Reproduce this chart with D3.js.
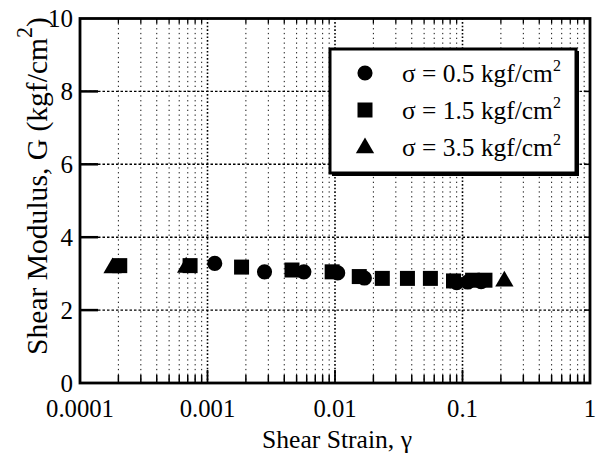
<!DOCTYPE html>
<html><head><meta charset="utf-8">
<script src="https://cdn.jsdelivr.net/npm/d3@7"></script>
<style>body{margin:0;background:#fff}svg{display:block}text{font-family:"Liberation Serif","Times New Roman",serif;fill:#000}</style>
</head><body><svg id="c" width="603" height="457"></svg>
<script>
const xTicks = [0.0001, 0.001, 0.01, 0.1, 1];
const xTickLabels = ["0.0001", "0.001", "0.01", "0.1", "1"];
const yTicks = [0, 2, 4, 6, 8, 10];
const s05x = [0.00114, 0.0028, 0.0057, 0.0105, 0.017, 0.09, 0.11, 0.14];
const s05y = [3.28, 3.05, 3.05, 3.02, 2.88, 2.75, 2.77, 2.78];
const s15x = [0.000205, 0.00073, 0.00185, 0.0046, 0.0095, 0.0155, 0.0235, 0.037, 0.056, 0.085, 0.12, 0.15];
const s15y = [3.22, 3.22, 3.18, 3.1, 3.05, 2.92, 2.87, 2.87, 2.87, 2.8, 2.82, 2.82];
const s35x = [0.00018, 0.00068, 0.213];
const s35y = [3.18, 3.2, 2.82];
const legendLabels = ["σ = 0.5 kgf/cm", "σ = 1.5 kgf/cm", "σ = 3.5 kgf/cm"];

const svg = d3.select("#c");
const L = 80, R = 590, T = 18.5, B = 383;
const x = d3.scaleLog().domain([0.0001, 1]).range([L, R]);
const y = d3.scaleLinear().domain([0, 10]).range([B, T]);

function fit(sel, target) {
  const w = sel.node().getComputedTextLength();
  const fs = parseFloat(sel.attr("font-size"));
  sel.attr("font-size", fs * target / w);
}

const minors = [];
for (let d = -4; d < 0; d++) for (let k = 2; k <= 9; k++) minors.push(k * Math.pow(10, d));

const g = svg.append("g");
g.selectAll(".vm").data(minors).join("line")
  .attr("x1", d => x(d)).attr("x2", d => x(d)).attr("y1", T).attr("y2", B)
  .attr("stroke", "#111").attr("stroke-width", 1).attr("stroke-dasharray", "1.3,3.5");
g.selectAll(".vd").data(xTicks.slice(1, -1)).join("line")
  .attr("x1", d => x(d)).attr("x2", d => x(d)).attr("y1", T).attr("y2", B)
  .attr("stroke", "#000").attr("stroke-width", 1.6).attr("stroke-dasharray", "1.6,2");
g.selectAll(".hg").data(yTicks.slice(1, -1)).join("line")
  .attr("x1", L).attr("x2", R).attr("y1", d => y(d)).attr("y2", d => y(d))
  .attr("stroke", "#000").attr("stroke-width", 1.4).attr("stroke-dasharray", "2.5,2");

g.selectAll(".yt").data(yTicks.slice(1, -1)).join("line")
  .attr("x1", L).attr("x2", L + 18).attr("y1", d => y(d)).attr("y2", d => y(d))
  .attr("stroke", "#000").attr("stroke-width", 2.5);
g.selectAll(".yt2").data(yTicks.slice(1, -1)).join("line")
  .attr("x1", R - 6).attr("x2", R).attr("y1", d => y(d)).attr("y2", d => y(d))
  .attr("stroke", "#000").attr("stroke-width", 1.5);
g.selectAll(".xt").data(minors).join("line")
  .attr("x1", d => x(d)).attr("x2", d => x(d)).attr("y1", B).attr("y2", B - 8)
  .attr("stroke", "#000").attr("stroke-width", 1.5);
g.selectAll(".xt2").data(xTicks.slice(1, -1)).join("line")
  .attr("x1", d => x(d)).attr("x2", d => x(d)).attr("y1", B).attr("y2", B - 13)
  .attr("stroke", "#000").attr("stroke-width", 1.8);
g.selectAll(".xt3").data(minors).join("line")
  .attr("x1", d => x(d)).attr("x2", d => x(d)).attr("y1", T).attr("y2", T + 5)
  .attr("stroke", "#000").attr("stroke-width", 1.3);

g.append("rect").attr("x", L).attr("y", T).attr("width", R - L).attr("height", B - T)
  .attr("fill", "none").attr("stroke", "#000").attr("stroke-width", 2.8);

g.selectAll(".yl").data(yTicks).join("text")
  .attr("x", 73).attr("y", d => y(d) + 8.5).attr("text-anchor", "end")
  .attr("font-size", 25).text(d => d);
g.selectAll(".xl").data(xTicks).join("text")
  .attr("x", d => x(d)).attr("y", 417).attr("text-anchor", "middle")
  .attr("font-size", 24.7).text((d, i) => xTickLabels[i]);

const xt = svg.append("text").attr("x", 337).attr("y", 448).attr("text-anchor", "middle")
  .attr("font-size", 20).text("Shear Strain, γ");
fit(xt, 150);
const yt = svg.append("text").attr("transform", "translate(47,186) rotate(-90)")
  .attr("text-anchor", "middle").attr("font-size", 20);
yt.append("tspan").text("Shear Modulus, G (kgf/cm");
const ysup = yt.append("tspan").attr("dy", -10).attr("font-size", 15).text("2");
yt.append("tspan").attr("dy", 10).text(")");
{
  const w = yt.node().getComputedTextLength();
  const k = 338 / w;
  yt.attr("font-size", 20 * k);
  ysup.attr("font-size", 15 * k).attr("dy", -10 * k);
  yt.select("tspan:last-child").attr("dy", 10 * k);
}

const circ = d3.symbol().type(d3.symbolCircle).size(180);
const sq = d3.symbol().type(d3.symbolSquare).size(225);
const tri = d3.symbol().type(d3.symbolTriangle).size(145);
const mk = svg.append("g");
mk.selectAll(".s35").data(s35x.map((v, i) => [v, s35y[i]])).join("path")
  .attr("d", tri).attr("transform", d => `translate(${x(d[0])},${y(d[1]) + 1})`).attr("fill", "#000");
mk.selectAll(".s15").data(s15x.map((v, i) => [v, s15y[i]])).join("path")
  .attr("d", sq).attr("transform", d => `translate(${x(d[0])},${y(d[1])})`).attr("fill", "#000");
mk.selectAll(".s05").data(s05x.map((v, i) => [v, s05y[i]])).join("path")
  .attr("d", circ).attr("transform", d => `translate(${x(d[0])},${y(d[1])})`).attr("fill", "#000");

const lg = svg.append("g");
lg.append("rect").attr("x", 332).attr("y", 51).attr("width", 247).attr("height", 125)
  .attr("fill", "#000");
lg.append("rect").attr("x", 330).attr("y", 49).attr("width", 246).attr("height", 124)
  .attr("fill", "#fff").attr("stroke", "#000").attr("stroke-width", 3);
const syms = [circ, sq, tri];
legendLabels.forEach((lab, i) => {
  const cy = 73 + i * 37;
  lg.append("path").attr("d", syms[i]).attr("transform", `translate(365,${cy + (i === 2 ? 1 : 0)})`).attr("fill", "#000");
  const t = lg.append("text").attr("x", 402).attr("y", cy + 9).attr("font-size", 20);
  const m = t.append("tspan").text(lab);
  t.append("tspan").attr("dy", -11).attr("font-size", 16).text("2");
  const w = m.node().getComputedTextLength();
  m.attr("font-size", 20 * 151 / w);
});
</script></body></html>
